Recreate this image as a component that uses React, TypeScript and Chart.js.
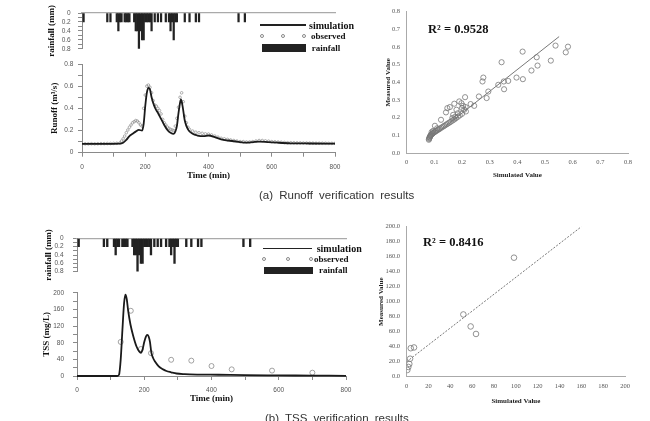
import React, { useEffect, useRef } from 'react';
import { Chart, registerables } from 'chart.js';
Chart.register(...registerables);

const SERIF = "'Liberation Serif', 'Times New Roman', serif";
const SANS = "'Liberation Sans', Arial, sans-serif";

// ---------- data ----------
const timeMin = 0;
const timeMax = 800;

const rainTimes = [5, 80, 90, 110, 115, 120, 125, 135, 140, 145, 150, 165, 170, 175, 180, 185, 190, 195, 200, 205, 210, 215, 220, 230, 240, 250, 265, 275, 280, 285, 290, 295, 300, 325, 340, 360, 370, 495, 515];
const rainDepth = [0.2, 0.2, 0.2, 0.2, 0.4, 0.2, 0.2, 0.2, 0.2, 0.2, 0.2, 0.2, 0.4, 0.4, 0.8, 0.4, 0.6, 0.6, 0.2, 0.2, 0.2, 0.2, 0.4, 0.2, 0.2, 0.2, 0.2, 0.2, 0.4, 0.2, 0.6, 0.2, 0.2, 0.2, 0.2, 0.2, 0.2, 0.2, 0.2];

const simRunoffT = [0, 60, 120, 130, 140, 150, 160, 170, 180, 190, 195, 200, 205, 210, 215, 220, 230, 240, 250, 260, 270, 280, 290, 295, 300, 305, 310, 313, 318, 325, 335, 350, 365, 385, 400, 420, 440, 460, 490, 520, 540, 560, 590, 620, 660, 720, 800];
const simRunoffV = [0.08, 0.08, 0.082, 0.09, 0.115, 0.15, 0.17, 0.19, 0.205, 0.2, 0.26, 0.42, 0.54, 0.585, 0.57, 0.5, 0.41, 0.36, 0.305, 0.25, 0.205, 0.18, 0.17, 0.19, 0.24, 0.355, 0.45, 0.48, 0.42, 0.29, 0.21, 0.17, 0.155, 0.15, 0.155, 0.14, 0.12, 0.11, 0.1, 0.09, 0.095, 0.1, 0.095, 0.09, 0.085, 0.083, 0.082];

const obsRunoffT = [0, 10, 20, 30, 40, 50, 60, 70, 80, 90, 100, 110, 120,
  125, 130, 135, 140, 145, 150, 155, 160, 165, 170, 175, 180, 185, 190, 195, 200, 205, 210, 215, 220, 225, 230, 235, 240, 245, 250, 255, 260, 265, 270, 275, 280, 285, 290, 295, 300, 305, 310, 315, 320, 325, 330, 335, 340,
  350, 360, 370, 380, 390, 400, 410, 420, 430, 440, 450, 460, 470, 480, 490, 500, 510, 520, 530, 540, 550, 560, 570, 580, 590, 600, 610, 620, 630, 640, 650, 660, 670, 680, 690, 700, 710, 720, 730, 740, 750, 760, 770, 780, 790, 800];
const obsRunoffV = [0.08, 0.08, 0.08, 0.081, 0.08, 0.081, 0.082, 0.082, 0.083, 0.083, 0.084, 0.085, 0.088,
  0.105, 0.125, 0.15, 0.18, 0.205, 0.23, 0.25, 0.27, 0.28, 0.29, 0.285, 0.27, 0.25, 0.24, 0.4, 0.52, 0.6, 0.61, 0.59, 0.54, 0.47, 0.43, 0.42, 0.4, 0.38, 0.35, 0.3, 0.27, 0.25, 0.23, 0.22, 0.21, 0.205, 0.2, 0.24, 0.31, 0.41, 0.5, 0.54, 0.46, 0.33, 0.27, 0.23, 0.21,
  0.195, 0.185, 0.18, 0.175, 0.17, 0.168, 0.16, 0.15, 0.14, 0.13, 0.125, 0.12, 0.115, 0.11, 0.105, 0.1, 0.1, 0.097, 0.097, 0.1, 0.105, 0.11, 0.11, 0.107, 0.104, 0.1, 0.098, 0.096, 0.094, 0.092, 0.09, 0.09, 0.089, 0.088, 0.088, 0.087, 0.087, 0.086, 0.086, 0.085, 0.085, 0.085, 0.085, 0.084, 0.084, 0.084];

const simTssT = [0, 120, 125, 130, 135, 140, 144, 148, 152, 159, 167, 177, 185, 190, 195, 200, 205, 209, 213, 217, 221, 226, 231, 238, 246, 256, 266, 280, 296, 320, 360, 420, 500, 600, 700, 800];
const simTssV = [0, 0, 3, 40, 110, 175, 196, 185, 158, 124, 97, 71, 59, 56, 64, 82, 95, 99, 95, 82, 57, 44, 36, 28, 21, 16, 12, 9, 6, 4.5, 3.5, 3, 2, 1.5, 1, 0.5];

const obsTssT = [130, 160, 190, 220, 280, 340, 400, 460, 580, 700];
const obsTssV = [82, 157, 65, 55, 39, 37, 24, 16, 13, 8];

const scatterASim = [0.583, 0.575, 0.538, 0.521, 0.473, 0.470, 0.451, 0.419, 0.420, 0.397, 0.367, 0.351, 0.352, 0.343, 0.331, 0.295, 0.289, 0.277, 0.274, 0.261, 0.244, 0.231, 0.211, 0.214, 0.204, 0.198, 0.190, 0.180, 0.172, 0.168, 0.156, 0.147, 0.142, 0.124, 0.102,
  0.080, 0.081, 0.082, 0.083, 0.084, 0.085, 0.086, 0.087, 0.089, 0.091, 0.093, 0.095, 0.098, 0.101, 0.104, 0.108, 0.112, 0.116, 0.120, 0.125, 0.130, 0.135, 0.140, 0.145, 0.150, 0.155, 0.160, 0.166, 0.172, 0.178, 0.185, 0.192, 0.200, 0.208, 0.185, 0.175, 0.165, 0.110, 0.095, 0.090, 0.200, 0.213];
const scatterAMeas = [0.602, 0.570, 0.608, 0.523, 0.495, 0.542, 0.467, 0.574, 0.418, 0.427, 0.408, 0.405, 0.361, 0.514, 0.386, 0.348, 0.311, 0.427, 0.405, 0.320, 0.267, 0.277, 0.316, 0.235, 0.267, 0.282, 0.292, 0.245, 0.279, 0.216, 0.260, 0.254, 0.230, 0.188, 0.154,
  0.075, 0.080, 0.085, 0.088, 0.092, 0.095, 0.098, 0.101, 0.104, 0.107, 0.110, 0.113, 0.116, 0.119, 0.122, 0.126, 0.130, 0.134, 0.138, 0.143, 0.148, 0.153, 0.158, 0.163, 0.168, 0.173, 0.178, 0.184, 0.190, 0.197, 0.205, 0.213, 0.222, 0.245, 0.225, 0.205, 0.198, 0.140, 0.125, 0.118, 0.255, 0.260];
const fitAX = [0.078, 0.551];
const fitAY = [0.075, 0.659];

const scatterBSim = [98.3, 51.9, 58.6, 63.5, 6.7, 3.7, 3.1, 2.4, 1.5, 0.6];
const scatterBMeas = [158.7, 83, 67, 57, 39, 38, 24, 17, 13, 9];
const fitBX = [0, 160];
const fitBY = [20, 200];

const r2A = 'R² = 0.9528';
const r2B = 'R² = 0.8416';

// ---------- helpers ----------
const pts = (xs: number[], ys: number[]) => xs.map((x, i) => ({ x, y: ys[i] }));
const tickFont = { family: SANS, size: 6.5 };
const serifTick = { family: SERIF, size: 6.5 };
const titleFont = { family: SERIF, size: 9, weight: 'bold' as const };
const axisGray = '#8a8a8a';

const evenTenth = (v: number) => (Math.round(v * 10) % 2 === 0 ? (v === 0 ? '0' : v.toFixed(1)) : '');

function baseOpts(padding: any) {
  return {
    responsive: false,
    animation: false,
    events: [],
    layout: { padding },
    plugins: { legend: { display: false }, tooltip: { enabled: false } },
  };
}

function rainConfig(yWidth: number, labelPad: number, titlePad: number, padRight: number): any {
  return {
    type: 'bar',
    data: {
      datasets: [{
        data: pts(rainTimes, rainDepth),
        backgroundColor: '#222',
        borderWidth: 0,
        barPercentage: 1,
        categoryPercentage: 1,
      }],
    },
    options: {
      ...baseOpts({ top: 13, right: padRight, bottom: 9, left: 0 }),
      scales: {
        x: {
          type: 'linear', position: 'top', min: timeMin, max: timeMax, offset: false,
          ticks: { display: false }, grid: { display: false },
          border: { display: true, color: '#aaa', width: 1.2 },
          afterFit: (s: any) => { s.height = 0; },
        },
        y: {
          type: 'linear', reverse: true, min: 0, max: 0.8,
          ticks: { stepSize: 0.1, autoSkip: false, padding: labelPad, color: '#555', font: tickFont, callback: evenTenth },
          grid: { drawOnChartArea: false, tickLength: 4, color: axisGray },
          border: { display: true, color: axisGray },
          title: { display: true, text: 'rainfall (mm)', color: '#111', font: titleFont, padding: { top: titlePad, bottom: 0 } },
          afterFit: (s: any) => { s.width = yWidth; },
        },
      },
    },
  };
}

function timeAxis(height: number, labelPad: number, titleBottom: number) {
  return {
    type: 'linear', min: timeMin, max: timeMax,
    ticks: { stepSize: 100, autoSkip: false, maxRotation: 0, padding: labelPad, color: '#555', font: tickFont, callback: (v: number) => (Math.round(v) % 200 === 0 ? String(v) : '') },
    grid: { drawOnChartArea: false, tickLength: 4, color: axisGray },
    border: { display: true, color: axisGray },
    title: { display: true, text: 'Time (min)', color: '#111', font: titleFont, padding: { top: 0, bottom: titleBottom } },
    afterFit: (s: any) => { s.height = height; },
  };
}

function runoffConfig(): any {
  return {
    type: 'line',
    data: {
      datasets: [
        { data: pts(simRunoffT, simRunoffV), borderColor: '#1a1a1a', borderWidth: 1.8, pointRadius: 0, cubicInterpolationMode: 'monotone', fill: false, order: 1 },
        { data: pts(obsRunoffT, obsRunoffV), showLine: false, pointRadius: 1.3, pointBorderWidth: 0.7, pointBorderColor: '#8c8c8c', pointBackgroundColor: 'rgba(255,255,255,0)', order: 2 },
      ],
    },
    options: {
      ...baseOpts({ top: 9, right: 15, bottom: 0, left: 0 }),
      scales: {
        x: timeAxis(32.3, 6.8, 3.9),
        y: {
          type: 'linear', min: 0, max: 0.8,
          ticks: { stepSize: 0.1, autoSkip: false, padding: 4.7, color: '#555', font: tickFont, callback: evenTenth },
          grid: { drawOnChartArea: false, tickLength: 4, color: axisGray },
          border: { display: true, color: axisGray },
          title: { display: true, text: 'Runoff (m³/s)', color: '#111', font: titleFont, padding: { top: 49.6, bottom: 0 } },
          afterFit: (s: any) => { s.width = 82; },
        },
      },
    },
  };
}

function tssConfig(): any {
  return {
    type: 'line',
    data: {
      datasets: [
        { data: pts(simTssT, simTssV), borderColor: '#1a1a1a', borderWidth: 1.8, pointRadius: 0, cubicInterpolationMode: 'monotone', fill: false, clip: false, order: 1 },
        { data: pts(obsTssT, obsTssV), showLine: false, pointRadius: 2.5, pointBorderWidth: 0.8, pointBorderColor: '#8c8c8c', pointBackgroundColor: 'rgba(255,255,255,0)', order: 2 },
      ],
    },
    options: {
      ...baseOpts({ top: 8.3, right: 14, bottom: 0, left: 0 }),
      scales: {
        x: timeAxis(45, 6.1, 16.6),
        y: {
          type: 'linear', min: 0, max: 200,
          ticks: { stepSize: 20, autoSkip: false, padding: 9, color: '#555', font: tickFont, callback: (v: number) => (Math.round(v) % 40 === 0 ? String(v) : '') },
          grid: { drawOnChartArea: false, tickLength: 4, color: axisGray },
          border: { display: true, color: axisGray },
          title: { display: true, text: 'TSS (mg/L)', color: '#111', font: titleFont, padding: { top: 41.3, bottom: 0 } },
          afterFit: (s: any) => { s.width = 77; },
        },
      },
    },
  };
}

function scatterConfig(o: {
  sx: number[]; sy: number[]; fx: number[]; fy: number[]; max: number; step: number;
  xLabel: (v: number) => string; yLabel: (v: number) => string;
  padRight: number; xHeight: number; xLabelPad: number; xTitleBottom: number; yTitleTop: number;
  radius: number; dash: number[];
}): any {
  const sTitle = { family: SERIF, size: 7, weight: 'bold' as const };
  return {
    type: 'scatter',
    data: {
      datasets: [
        { data: pts(o.fx, o.fy), showLine: true, borderColor: '#555', borderWidth: 0.8, borderDash: o.dash, pointRadius: 0, order: 2 },
        { data: pts(o.sx, o.sy), pointRadius: o.radius, pointBorderWidth: 0.8, pointBorderColor: '#777', pointBackgroundColor: 'rgba(255,255,255,0)', order: 1 },
      ],
    },
    options: {
      ...baseOpts({ top: 11.7, right: o.padRight, bottom: 0, left: 0 }),
      scales: {
        x: {
          type: 'linear', min: 0, max: o.max,
          ticks: { stepSize: o.step, autoSkip: false, maxRotation: 0, padding: o.xLabelPad, color: '#555', font: serifTick, callback: o.xLabel },
          grid: { display: false, drawTicks: false },
          border: { display: true, color: '#aaa' },
          title: { display: true, text: 'Simulated Value', color: '#222', font: sTitle, padding: { top: 0, bottom: o.xTitleBottom } },
          afterFit: (s: any) => { s.height = o.xHeight; },
        },
        y: {
          type: 'linear', min: 0, max: o.max,
          ticks: { stepSize: o.step, autoSkip: false, padding: 6.7, color: '#555', font: serifTick, callback: o.yLabel },
          grid: { display: false, drawTicks: false },
          border: { display: true, color: '#aaa' },
          title: { display: true, text: 'Measured Value', color: '#222', font: sTitle, padding: { top: o.yTitleTop, bottom: 0 } },
          afterFit: (s: any) => { s.width = 46.7; },
        },
      },
    },
  };
}

function ChartBox({ left, top, width, height, make }: { left: number; top: number; width: number; height: number; make: () => any }) {
  const ref = useRef<HTMLCanvasElement>(null);
  useEffect(() => {
    const chart = new Chart(ref.current as HTMLCanvasElement, make());
    return () => chart.destroy();
  }, []);
  return <canvas ref={ref} width={width} height={height} style={{ position: 'absolute', left, top, width, height }} />;
}

function Txt({ left, cy, size, children, bold = true, family = SERIF, color = '#111' }: any) {
  const lh = Math.round(size * 1.25);
  return (
    <span style={{ position: 'absolute', left, top: cy - lh / 2, fontFamily: family, fontSize: size, fontWeight: bold ? 'bold' : 'normal', lineHeight: `${lh}px`, color, whiteSpace: 'nowrap' }}>{children}</span>
  );
}

function Legend({ lineX, lineW, lineY, textX1, circles, circY, textX2, rectX, rectY, rectW, textX3 }: any) {
  return (
    <>
      <div style={{ position: 'absolute', left: lineX, top: lineY - 0.75, width: lineW, height: 1.5, background: '#222' }} />
      <Txt left={textX1} cy={lineY} size={10}>simulation</Txt>
      {circles.map((cx: number, i: number) => (
        <div key={i} style={{ position: 'absolute', left: cx - 2.2, top: circY - 2.2, width: 4.4, height: 4.4, boxSizing: 'border-box', border: '0.8px solid #888', borderRadius: '50%' }} />
      ))}
      <Txt left={textX2} cy={circY} size={9}>observed</Txt>
      <div style={{ position: 'absolute', left: rectX, top: rectY, width: rectW, height: 7.5, background: '#222' }} />
      <Txt left={textX3} cy={rectY + 3.8} size={9}>rainfall</Txt>
    </>
  );
}

export default function App() {
  const caption = { position: 'absolute' as const, fontFamily: SANS, fontSize: 11.5, color: '#333', wordSpacing: 3, whiteSpace: 'nowrap' as const, lineHeight: '14px' };
  return (
    <div style={{ position: 'absolute', left: 0, top: 0, width: 650, height: 421, background: '#fff', overflow: 'hidden' }}>
      <ChartBox left={0} top={0} width={350} height={60} make={() => rainConfig(82, 7.3, 46.6, 15)} />
      <ChartBox left={0} top={55} width={350} height={130} make={runoffConfig} />
      <ChartBox left={0} top={225} width={360} height={60} make={() => rainConfig(77, 9.5, 42.9, 14)} />
      <ChartBox left={0} top={280} width={360} height={141} make={tssConfig} />
      <ChartBox left={360} top={0} width={290} height={185} make={() => scatterConfig({
        sx: scatterASim, sy: scatterAMeas, fx: fitAX, fy: fitAY, max: 0.8, step: 0.1,
        xLabel: (v: number) => (v === 0 ? '0' : v.toFixed(1)), yLabel: (v: number) => v.toFixed(1),
        padRight: 22, xHeight: 32, xLabelPad: 5.8, xTitleBottom: 5.8, yTitleTop: 23.8, radius: 2.6, dash: [],
      })} />
      <ChartBox left={360} top={215} width={290} height={206} make={() => scatterConfig({
        sx: scatterBSim, sy: scatterBMeas, fx: fitBX, fy: fitBY, max: 200, step: 20,
        xLabel: (v: number) => String(v), yLabel: (v: number) => v.toFixed(1),
        padRight: 25, xHeight: 44.3, xLabelPad: 6.1, xTitleBottom: 15.8, yTitleTop: 16.5, radius: 2.8, dash: [2, 1.5],
      })} />

      <Legend lineX={260} lineW={46} lineY={25} textX1={309} circles={[261.7, 282.7, 304]} circY={36} textX2={311} rectX={261.7} rectY={44.3} rectW={44.3} textX3={311.7} />
      <Legend lineX={263} lineW={49} lineY={248.3} textX1={316.7} circles={[264, 287.7, 310.7]} circY={259} textX2={314} rectX={264} rectY={266.7} rectW={49} textX3={319} />

      <Txt left={428} cy={28.7} size={12.5}>{r2A}</Txt>
      <Txt left={423} cy={241.7} size={12.5}>{r2B}</Txt>

      <span style={{ ...caption, left: 259, top: 188 }}>(a) Runoff verification results</span>
      <span style={{ ...caption, left: 265, top: 411 }}>(b) TSS verification results</span>
    </div>
  );
}
